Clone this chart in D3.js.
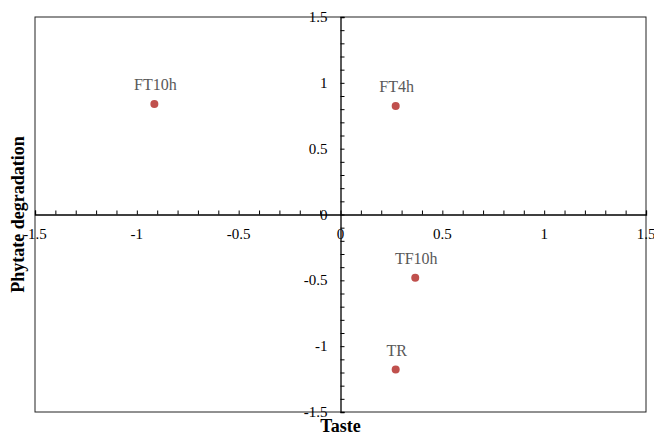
<!DOCTYPE html>
<html>
<head>
<meta charset="utf-8">
<script src="https://cdn.jsdelivr.net/npm/d3@7"></script>
<style>
  body { margin: 0; background: #fff; }
</style>
</head>
<body>
<svg id="chart"></svg>
<script>
// sample names and their scores
const labels = ['FT10h', 'FT4h', 'TF10h', 'TR'];
const tasteValues = [-0.914, 0.271, 0.367, 0.271];
const phytateValues = [0.839, 0.824, -0.48, -1.178];
const tickValues = [-1.5, -1, -0.5, 0, 0.5, 1, 1.5];

const width = 654, height = 436;
const plotL = 35, plotR = 646, plotT = 17, plotB = 412;
const serif = '"Times New Roman", "Liberation Serif", "DejaVu Serif", serif';

const svg = d3.select('#chart').attr('width', width).attr('height', height)
    .attr('font-family', serif);

const x = d3.scaleLinear().domain([-1.5, 1.5]).range([plotL, plotR]);
const y = d3.scaleLinear().domain([-1.5, 1.5]).range([plotB, plotT]);

// frame
svg.append('rect')
    .attr('x', plotL).attr('y', plotT)
    .attr('width', plotR - plotL).attr('height', plotB - plotT)
    .attr('fill', 'none').attr('stroke', '#222').attr('stroke-width', 1);

// minor ticks every 0.1
const minor = d3.range(-15, 16).map(d => d / 10);

// x axis through y = 0, ticks pointing up
const xAxis = svg.append('g')
    .attr('transform', `translate(0,${y(0)})`)
    .call(d3.axisTop(x).tickValues(minor).tickSize(4).tickFormat(''));
xAxis.select('.domain').attr('stroke', '#000').attr('stroke-width', 1.3);
xAxis.selectAll('line').attr('stroke', '#000');

svg.append('g').selectAll('text')
    .data(tickValues)
    .join('text')
    .attr('x', d => x(d))
    .attr('y', y(0) + 24)
    .attr('text-anchor', 'middle')
    .attr('font-family', serif)
    .attr('font-size', 15)
    .text(d => d);

// y axis through x = 0, ticks pointing right
const yAxis = svg.append('g')
    .attr('transform', `translate(${x(0)},0)`)
    .call(d3.axisRight(y).tickValues(minor).tickSize(4).tickFormat(''));
yAxis.select('.domain').attr('stroke', '#000').attr('stroke-width', 1.3);
yAxis.selectAll('line').attr('stroke', '#000');

svg.append('g').selectAll('text')
    .data(tickValues)
    .join('text')
    .attr('x', x(0) - 13)
    .attr('y', d => y(d) + 5)
    .attr('text-anchor', 'end')
    .attr('font-family', serif)
    .attr('font-size', 15)
    .text(d => d);

// points + labels
const pts = labels.map((name, i) => ({ name, tx: tasteValues[i], py: phytateValues[i] }));

svg.append('g').selectAll('circle')
    .data(pts)
    .join('circle')
    .attr('cx', d => x(d.tx))
    .attr('cy', d => y(d.py))
    .attr('r', 4)
    .attr('fill', '#c0504d');

svg.append('g').selectAll('text')
    .data(pts)
    .join('text')
    .attr('x', d => x(d.tx) + 1)
    .attr('y', d => y(d.py) - 14)
    .attr('text-anchor', 'middle')
    .attr('font-family', serif)
    .attr('font-size', 16)
    .attr('fill', '#595959')
    .text(d => d.name);

// axis titles
svg.append('text')
    .attr('x', x(0))
    .attr('y', 432)
    .attr('text-anchor', 'middle')
    .attr('font-family', serif)
    .attr('font-size', 18)
    .attr('font-weight', 'bold')
    .text('Taste');

svg.append('text')
    .attr('transform', `translate(24,${y(0)}) rotate(-90)`)
    .attr('text-anchor', 'middle')
    .attr('font-family', serif)
    .attr('font-size', 18)
    .attr('font-weight', 'bold')
    .text('Phytate degradation');
</script>
</body>
</html>
